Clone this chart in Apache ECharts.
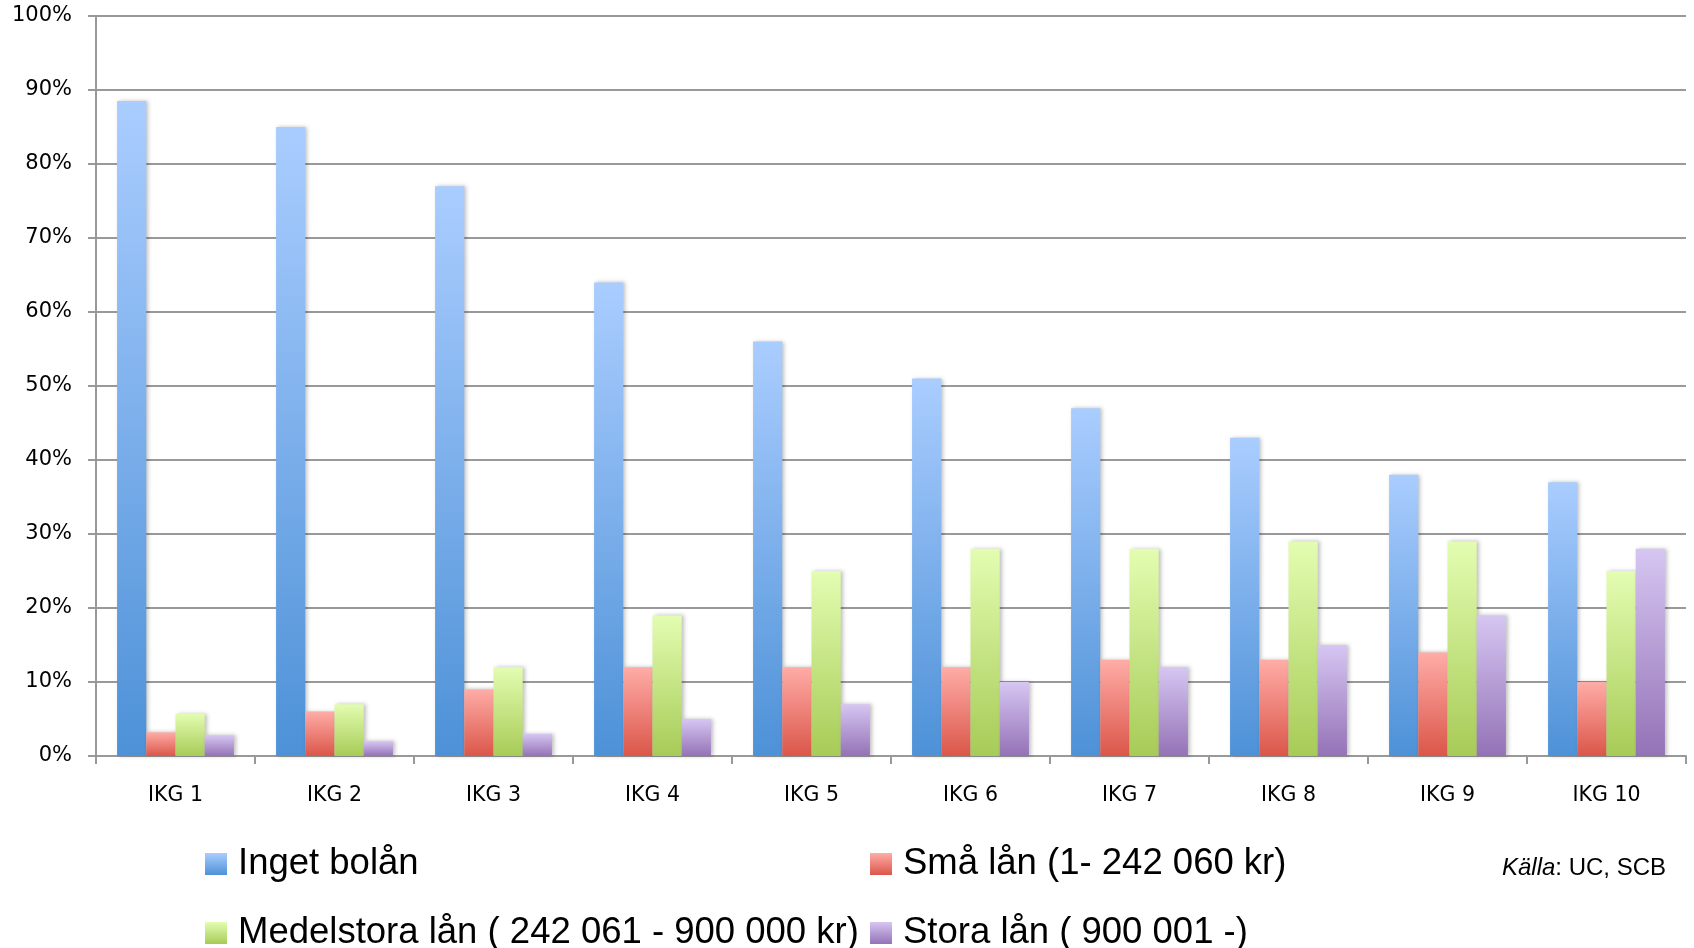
<!DOCTYPE html>
<html>
<head>
<meta charset="utf-8">
<script src="https://cdn.jsdelivr.net/npm/echarts@6/dist/echarts.min.js"></script>
<style>
html,body{margin:0;padding:0;background:#fff;}
#chart{width:1694px;height:948px;}
</style>
</head>
<body>
<div id="chart"></div>
<script>
const categories = ['IKG 1','IKG 2','IKG 3','IKG 4','IKG 5','IKG 6','IKG 7','IKG 8','IKG 9','IKG 10'];
const ingetBolan = [88.5, 85, 77, 64, 56, 51, 47, 43, 38, 37];
const smaLan = [3.2, 6, 9, 12, 12, 12, 13, 13, 14, 10];
const medelstoraLan = [5.7, 7, 12, 19, 25, 28, 28, 29, 29, 25];
const storaLan = [2.8, 2, 3, 5, 7, 10, 12, 15, 19, 28];
const seriesNames = ['Inget bolån','Små lån (1- 242 060 kr)','Medelstora lån ( 242 061 - 900 000 kr)','Stora lån ( 900 001 -)'];

function grad(top, bottom){
  return new echarts.graphic.LinearGradient(0,0,0,1,[{offset:0,color:top},{offset:1,color:bottom}]);
}
const colors = [
  grad('#aacdff','#4d91d7'),
  grad('#ffaca7','#db5649'),
  grad('#e3fdb1','#a7cb57'),
  grad('#d6c6f2','#9472b6')
];
const dataSets = [ingetBolan, smaLan, medelstoraLan, storaLan];

const chart = echarts.init(document.getElementById('chart'));
const legendFont = {fontFamily:'Liberation Sans', fontSize:36.5, color:'#000', lineHeight:40, padding:[0,0,0,6]};
function mkLegend(name, left, top){
  return {data:[name], left:left, top:top, padding:0, itemWidth:22, itemHeight:22, icon:'rect', selectedMode:false, textStyle:legendFont};
}
chart.setOption({
  animation:false,
  backgroundColor:'#fff',
  grid:{left:96, right:8, top:16, bottom:192},
  legend:[
    mkLegend(seriesNames[0], 205, 844),
    mkLegend(seriesNames[1], 870, 844),
    mkLegend(seriesNames[2], 205, 913),
    mkLegend(seriesNames[3], 870, 913)
  ],
  graphic:[{
    type:'text', right:28, top:856,
    style:{
      text:'{i|Källa}: UC, SCB',
      fontFamily:'Liberation Sans', fontSize:24, fill:'#000',
      rich:{i:{fontStyle:'italic', fontFamily:'Liberation Sans', fontSize:24}}
    }
  }],
  xAxis:{
    type:'category', data:categories,
    axisLine:{lineStyle:{color:'#999', width:2}},
    axisTick:{show:true, length:8, lineStyle:{color:'#999', width:2}},
    axisLabel:{fontFamily:'DejaVu Sans', fontSize:20.5, color:'#000', margin:29}
  },
  yAxis:{
    type:'value', min:0, max:100, interval:10,
    axisLine:{show:true, lineStyle:{color:'#999', width:2}},
    axisTick:{show:true, length:8, lineStyle:{color:'#999', width:2}},
    splitLine:{lineStyle:{color:'#999', width:2}},
    axisLabel:{fontFamily:'DejaVu Sans', fontSize:21, color:'#000', margin:24, padding:[6,0,0,0], formatter:'{value}%'}
  },
  series: seriesNames.map((n,i)=>({
    name:n, type:'bar', data:dataSets[i],
    barGap:'0%', barCategoryGap:'26.5%',
    itemStyle:{color:colors[i], shadowColor:'rgba(0,0,0,0.25)', shadowBlur:4, shadowOffsetX:2}
  }))
});
</script>
</body>
</html>
